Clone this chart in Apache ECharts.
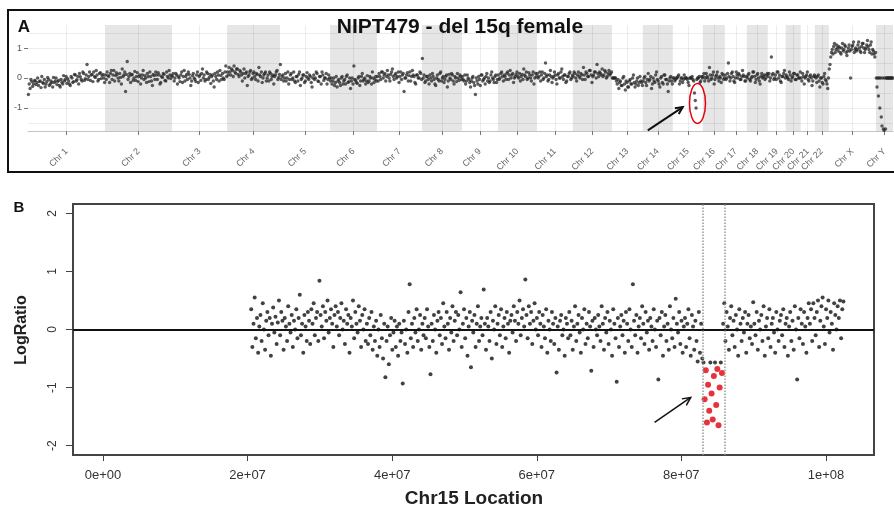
<!DOCTYPE html>
<html>
<head>
<meta charset="utf-8">
<script src="https://cdn.jsdelivr.net/npm/echarts@6/dist/echarts.min.js"></script>
<style>
html, body { margin: 0; padding: 0; background: #fff; }
#chart { width: 894px; height: 509px; }
</style>
</head>
<body>
<div id="chart"></div>
<script>
// ---- panel A: genome-wide log ratios, one array per chromosome ----
const chrNames = ['Chr 1','Chr 2','Chr 3','Chr 4','Chr 5','Chr 6','Chr 7','Chr 8','Chr 9','Chr 10','Chr 11','Chr 12',
  'Chr 13','Chr 14','Chr 15','Chr 16','Chr 17','Chr 18','Chr 19','Chr 20','Chr 21','Chr 22','Chr X','Chr Y'];
// plotted length of each chromosome (Mb, as drawn)
const chrLen = [262,228,187,180,170,160,153,136,122,133,122,133,105,102,102,75,75,71,61,51,48,48,160,58];

const chr1LR = [-0.55,-0.2,-0.35,-0.05,-0.12,-0.28,-0.2,-0.1,-0.08,-0.22,-0.15,0.0,-0.25,-0.12,-0.1,-0.32,0.05,-0.15,-0.18,-0.05,-0.3,-0.2,-0.12,0.02,-0.05,-0.25,-0.2,-0.1,-0.15,-0.3,0.02,-0.15,-0.1,0.0,-0.22,-0.12,-0.08,-0.25,-0.3,-0.05,-0.14,-0.2,0.08,-0.1,-0.05,0.05,-0.18,-0.02,-0.1,-0.2,-0.25,0.05,0.0,-0.15,-0.12,0.12,0.1,-0.1,-0.06,0.05,-0.2,0.15,0.04,-0.05,-0.1,0.2,0.15,-0.08,-0.02,0.1,0.45,-0.05,0.05,0.2,-0.08,0.1,0.12,-0.12,0.2,0.05,0.02,0.25,0.1,-0.1,-0.05,0.15,0.18,-0.02,0.08,0.12,0.0,-0.15];
const chr2LR = [0.1,-0.05,0.2,0.08,0.05,-0.15,0.15,0.25,-0.05,0.1,0.25,-0.1,0.08,0.18,0.12,0.0,-0.1,0.15,0.02,-0.2,0.3,0.05,0.1,0.2,-0.45,0.12,0.55,-0.05,0.05,0.15,-0.15,0.1,0.12,-0.08,0.0,0.22,-0.08,0.05,0.18,-0.12,0.05,0.1,-0.2,0.0,0.1,0.25,-0.05,0.08,0.0,-0.15,0.15,0.05,-0.12,0.2,0.05,-0.1,-0.25,0.12,0.08,-0.05,0.2,0.1,-0.05,0.18,0.1,-0.2,-0.15,0.05,0.02,0.15,0.12,-0.08,-0.1,0.2,0.05,0.0,0.25,0.1,-0.02,0.08];
const chr3LR = [0.05,0.15,-0.1,0.0,0.15,0.1,-0.2,0.05,0.0,-0.12,0.1,0.2,-0.15,0.05,0.25,-0.1,0.05,0.12,-0.05,0.2,0.12,0.0,-0.25,-0.1,0.08,0.15,0.0,-0.05,-0.12,0.1,0.2,-0.15,0.05,0.1,-0.08,0.15,0.3,0.0,0.1,-0.1,-0.05,0.2,0.15,-0.05,0.02,0.12,-0.18,0.05,0.1,-0.1,-0.3,0.15,0.05,-0.05,0.2,0.1,-0.1,0.25,0.08,-0.05,0.15,0.0,-0.05,0.2,0.4,0.05];
const chr4LR = [0.2,0.1,0.35,0.2,0.1,0.3,0.25,0.05,0.4,0.2,0.15,0.3,0.3,0.12,0.05,0.25,0.2,0.1,-0.1,0.15,0.3,0.0,0.15,0.2,-0.25,0.05,0.1,0.2,0.25,-0.05,0.0,0.15,0.2,0.05,-0.05,0.15,0.12,-0.1,0.35,0.1,0.05,0.2,-0.15,0.0,0.1,0.15,0.2,-0.1,0.0,0.1,-0.1,0.2,0.15,-0.05,0.05,0.1,-0.2,0.05,0.1,0.2,0.25,-0.05,0.02,0.12];
const chr5LR = [0.45,-0.05,0.05,0.1,-0.1,0.0,0.15,-0.1,0.0,0.2,-0.2,-0.05,0.1,0.15,-0.05,0.0,0.2,-0.1,-0.15,0.05,0.05,-0.1,0.12,0.2,-0.25,-0.05,0.0,0.1,0.1,-0.15,-0.1,0.05,0.18,0.0,-0.05,0.1,0.05,-0.15,-0.3,0.0,0.1,-0.05,0.0,0.2,0.15,-0.1,-0.12,0.05,0.05,-0.2,0.2,0.1,-0.08,0.0,0.0,0.15,-0.2,-0.05,0.1,0.0];
const chr6LR = [-0.1,0.0,-0.2,-0.1,0.0,-0.25,-0.15,0.05,-0.3,-0.1,-0.05,-0.15,-0.25,0.0,0.05,-0.2,-0.1,-0.05,-0.2,0.05,0.1,-0.15,-0.12,0.0,-0.35,-0.1,0.0,-0.2,0.4,-0.05,-0.08,-0.15,-0.18,0.0,0.05,-0.25,-0.1,0.05,0.15,-0.1,-0.05,0.0,-0.2,-0.1,0.08,-0.15,-0.1,0.05,0.0,-0.2,0.2,0.0,-0.15,-0.05,0.05,-0.1];
const chr7LR = [0.05,-0.1,0.15,0.05,-0.05,0.2,0.2,0.0,0.1,0.15,-0.1,0.05,0.25,0.1,0.0,-0.1,0.12,0.2,0.3,0.05,-0.05,0.1,0.15,0.0,0.05,0.2,-0.15,0.05,0.2,-0.05,0.1,0.15,-0.45,0.0,0.0,0.1,0.18,-0.1,0.08,0.2,-0.1,0.05,0.25,0.1,0.05,-0.15,-0.2,0.1,0.1,0.0,0.0,0.2,0.15,-0.05];
const chr8LR = [0.65,0.0,0.1,-0.15,-0.1,0.05,0.05,-0.05,-0.2,0.1,0.0,-0.1,0.15,0.05,-0.05,-0.2,-0.25,0.0,0.1,-0.05,-0.1,0.15,0.2,-0.1,0.0,0.05,-0.15,-0.05,0.05,0.1,-0.3,-0.1,0.12,0.0,-0.05,0.15,0.1,-0.1,-0.2,0.05,0.0,-0.12,0.15,0.0,-0.08,0.1,0.05,-0.05];
const chr9LR = [0.05,-0.05,-0.1,0.1,-0.2,-0.1,0.1,0.0,-0.05,-0.15,-0.3,-0.1,0.0,0.05,-0.15,-0.25,-0.55,0.0,-0.1,-0.2,0.05,-0.05,-0.25,0.1,0.1,-0.1,-0.05,0.0,-0.2,0.05,0.15,-0.1,0.0,-0.15,-0.1,0.1,0.2,0.0,-0.05,-0.15,0.05,0.1,-0.15,-0.05];
const chr10LR = [0.1,-0.05,0.0,0.15,0.2,0.05,-0.1,0.1,0.05,-0.05,0.15,0.2,-0.05,0.1,0.25,0.0,0.1,0.15,-0.15,0.0,0.05,0.12,0.2,0.05,0.0,0.15,-0.1,0.05,0.12,-0.05,0.3,0.1,0.05,0.2,-0.05,0.0,0.18,0.1,0.0,-0.1,0.1,0.2,-0.2,0.0,0.15,0.05];
const chr11LR = [0.15,0.0,0.05,0.2,-0.1,0.1,0.2,-0.05,0.0,0.15,0.5,0.05,0.1,-0.1,-0.05,0.1,0.25,0.05,-0.15,0.0,0.05,0.2,0.1,-0.05,-0.2,0.1,0.15,0.0,0.0,0.2,0.3,0.05,-0.05,0.1,0.1,-0.15,-0.1,0.05,0.05,0.15,0.2,-0.05,0.0,0.1];
const chr12LR = [0.05,0.2,0.15,0.0,-0.1,0.1,0.2,0.05,0.0,0.15,0.1,-0.05,0.35,0.1,-0.05,0.2,0.15,0.05,0.05,0.25,0.25,0.1,-0.15,0.05,0.1,0.2,0.2,0.0,0.45,0.15,0.05,0.2,0.15,0.1,0.3,0.05,0.1,0.25,0.2,0.0,0.05,0.15,0.25,0.1,0.15,0.2];
const chr13LR = [0.0,0.0,0.0,0.0,0.0,-0.1,-0.2,-0.05,-0.35,-0.15,-0.1,-0.25,-0.25,0.0,0.05,-0.2,-0.4,-0.1,-0.15,-0.3,-0.3,-0.1,-0.05,-0.2,-0.2,0.0,0.1,-0.15,-0.3,-0.2,-0.1,0.0,-0.25,-0.15,0.05,-0.1,-0.15,-0.25];
const chr14LR = [-0.1,0.0,0.05,-0.15,-0.25,-0.05,0.15,-0.1,-0.05,0.05,-0.35,-0.2,0.0,-0.1,-0.15,0.1,0.2,-0.05,-0.1,-0.2,-0.3,0.0,0.05,-0.15,-0.2,0.1,0.1,-0.05,-0.05,-0.2,-0.45,-0.1,0.0,0.05,-0.1,-0.2];
const chr15LRA = [0.0,0.0,-0.1,-0.05,0.0,0.0,0.05,0.1,-0.2,-0.1,0.0,0.0,-0.15,-0.05,0.1,0.0,0.0,0.0,-0.05,-0.15,-0.25,0.0,0.0,0.0,0.05,-0.05,-0.1,-0.5,-0.75,-1.0,-0.05,0.0,0.0,0.05,-0.15,-0.1,0.05,0.0];
const chr16LR = [0.05,0.15,-0.1,0.0,0.15,0.05,0.0,-0.1,0.35,0.1,-0.05,0.0,0.1,0.2,-0.2,-0.05,0.05,0.1,0.2,0.0,-0.1,0.05,0.0,-0.15,0.15,0.1,-0.05,0.0];
const chr17LR = [0.1,-0.05,0.0,0.15,0.5,0.05,-0.1,0.0,0.15,0.2,0.05,-0.1,-0.15,0.0,0.2,0.1,0.0,0.15,0.1,-0.05,-0.05,0.05,0.25,0.1,0.05,-0.1,-0.1,0.05];
const chr18LR = [0.0,0.1,0.15,-0.05,-0.1,0.0,0.05,0.2,0.2,0.05,-0.15,-0.05,0.1,0.15,0.0,-0.1,-0.2,0.05,0.15,0.0,0.05,0.1,-0.05,0.0,0.1,0.15];
const chr19LR = [0.05,0.15,-0.1,0.0,0.7,0.1,0.15,-0.05,0.0,0.1,-0.05,0.2,0.2,0.0,0.1,-0.1,-0.15,0.05,0.05,0.15,0.25,0.0];
const chr20LR = [0.1,0.05,0.0,-0.05,0.2,0.1,-0.1,0.0,0.05,0.15,0.15,-0.05,-0.05,0.1,0.1,0.0,0.0,0.2];
const chr21LR = [0.0,-0.1,0.15,0.05,-0.2,0.0,0.05,0.1,0.2,-0.05,-0.1,0.05,0.1,0.0,-0.25,-0.1,0.05,0.1];
const chr22LR = [0.05,0.0,-0.15,0.05,0.1,-0.1,-0.3,0.0,0.0,-0.15,-0.2,0.05,0.15,-0.05,-0.1,-0.2,-0.35,0.0];
const chrXLR = [0.3,0.45,0.7,0.85,0.95,0.8,1.05,1.15,0.85,0.95,1.1,1.0,0.9,1.05,1.0,0.85,0.8,1.0,1.15,0.9,0.95,1.1,1.05,0.85,0.75,0.9,1.0,1.1,0.9,0.0,0.95,1.05,1.1,1.2,0.85,0.95,1.0,0.9,0.95,1.1,1.2,1.0,0.9,0.85,1.05,1.15,1.15,1.0,0.85,0.95,1.0,1.1,1.25,1.05,0.95,0.85,1.1,1.2,0.8,0.95,0.9,0.8,0.7,0.85];
const chrYLR = [0,-0.3,0,-0.6,0,-1.0,0,-1.3,-1.6,0,-1.7,-1.75,0,-1.7,0,0,0,0,0,0,0,0,0,0];

const yTicksA = [-1, 0, 1];
const gridLinesA = [-1.5, -1, -0.5, 0, 0.5, 1, 1.5];

// ---- panel B: chromosome 15 bins ----
const chr15Start = 20.5e6;
const chr15Bin = 0.16e6;
const chr15LR = [
  0.35,-0.3,0.1,0.55,-0.15,0.2,-0.4,0.05,0.25,-0.2,0.45,0.0,-0.35,0.15,0.3,-0.1,0.2,-0.45,0.1,0.38,-0.05,0.22,-0.25,0.12,0.5,
  -0.1,0.3,0.15,-0.35,0.2,0.05,-0.2,0.4,0.1,-0.05,0.25,-0.3,0.15,0.0,0.35,-0.15,0.2,0.6,-0.1,0.1,-0.4,0.25,0.05,-0.2,0.3,
  0.15,-0.25,0.35,0.1,0.45,-0.1,0.2,0.3,-0.2,0.84,0.25,0.05,0.4,-0.15,0.3,0.15,0.5,-0.05,0.2,0.35,0.1,-0.3,0.25,0.4,0.05,
  0.3,-0.1,0.2,0.45,0.0,0.15,-0.25,0.35,0.1,0.25,-0.4,0.2,0.05,0.5,-0.15,0.3,0.1,-0.05,0.4,0.15,-0.3,0.25,0.0,0.35,-0.2,
  0.1,-0.25,0.2,-0.1,0.3,-0.35,0.05,-0.2,0.15,-0.45,0.0,-0.3,0.25,-0.15,-0.5,0.1,-0.82,-0.2,0.05,-0.6,-0.1,0.2,-0.35,-0.05,0.15,
  -0.3,0.05,-0.45,0.1,-0.2,-0.05,-0.93,0.15,-0.25,0.0,-0.4,0.3,0.78,-0.15,0.1,-0.3,0.2,-0.05,0.35,-0.2,0.0,0.25,-0.35,0.1,-0.1,
  0.2,-0.15,0.35,0.05,-0.3,-0.77,0.1,-0.2,0.25,0.0,-0.4,0.15,0.3,-0.1,0.2,-0.25,0.45,0.05,-0.15,0.3,0.1,-0.35,0.2,-0.05,0.4,
  -0.2,0.15,0.3,-0.1,0.25,0.0,0.64,-0.3,0.1,0.35,-0.15,0.2,-0.45,0.05,0.3,-0.65,0.15,-0.05,0.25,-0.3,0.1,0.4,-0.2,0.05,0.2,
  -0.1,0.69,0.1,-0.35,0.2,0.05,-0.2,0.3,-0.5,0.15,0.0,0.4,-0.25,0.1,0.25,-0.1,0.35,-0.3,0.05,0.2,-0.15,0.3,0.1,-0.4,0.15,
  0.25,-0.05,0.4,0.15,-0.2,0.3,0.1,0.5,-0.1,0.2,0.35,0.05,0.86,0.25,-0.15,0.4,0.1,0.3,-0.25,0.15,0.45,0.0,0.2,-0.1,0.3,
  0.1,-0.3,0.25,0.05,-0.15,0.35,-0.4,0.15,0.0,-0.2,0.3,0.1,-0.25,0.2,-0.74,0.05,-0.35,0.15,0.25,-0.1,0.0,-0.45,0.2,0.1,-0.15,
  0.3,-0.1,0.15,-0.35,0.05,0.4,-0.2,0.1,0.25,-0.05,-0.4,0.2,0.0,0.35,-0.25,0.1,-0.15,0.3,0.05,-0.71,0.15,-0.3,0.2,0.0,-0.1,
  0.25,0.05,-0.2,0.4,0.1,-0.35,0.2,-0.05,0.3,-0.25,0.15,0.0,-0.45,0.35,0.1,-0.15,-0.9,0.2,-0.3,0.05,0.25,-0.1,0.15,-0.4,0.3,
  0.1,-0.2,0.35,0.0,-0.3,0.78,0.15,-0.1,0.25,-0.4,0.05,0.2,-0.15,0.4,0.1,-0.25,0.3,-0.05,0.15,-0.35,0.2,0.05,-0.2,0.35,0.0,
  -0.3,0.15,-0.86,0.2,-0.1,0.3,-0.45,0.05,0.25,-0.2,0.1,-0.35,0.4,0.0,-0.15,0.2,-0.3,0.53,0.1,-0.05,0.3,-0.25,0.15,-0.4,0.05,
  0.2,-0.3,0.1,0.35,-0.15,-0.45,0.25,0.05,-0.35,0.15,-0.2,-0.55,0.3,-0.4,0.1,-0.5,
  -0.57,-1.2,-0.7,-1.6,-0.95,-1.4,-0.57,-1.1,-1.55,-0.8,-0.57,-1.3,-0.68,-1.65,-1.0,-0.57,-0.75,
  0.1,0.45,-0.2,0.3,0.05,-0.35,0.2,0.4,-0.1,0.15,-0.3,0.25,0.0,-0.45,0.35,0.1,-0.2,0.2,-0.05,0.3,-0.4,0.1,0.25,-0.15,0.05,
  -0.25,0.47,0.1,-0.1,0.3,-0.35,0.15,0.0,0.25,-0.2,0.4,-0.45,0.05,0.2,-0.15,0.35,-0.3,0.1,0.2,-0.05,-0.4,0.3,0.0,-0.2,0.15,
  0.25,-0.1,0.35,-0.3,0.1,0.2,-0.45,0.05,0.3,-0.2,0.15,-0.35,0.4,0.0,-0.86,0.2,-0.15,0.35,0.1,-0.25,0.3,0.05,-0.4,0.2,0.45,
  0.1,0.35,-0.2,0.45,0.2,-0.1,0.3,0.5,-0.3,0.15,0.4,0.55,0.05,-0.25,0.35,0.2,0.5,-0.05,0.3,0.1,-0.35,0.45,0.25,0.0,0.4,
  0.2,0.5,-0.15,0.35,0.48
];
const delStart = 83.0e6;
const delEnd = 86.0e6;
const xTicksB = [0, 2e7, 4e7, 6e7, 8e7, 1e8];
const yTicksB = [-2, -1, 0, 1, 2];

// ---- build ----
const chrLR = [chr1LR,chr2LR,chr3LR,chr4LR,chr5LR,chr6LR,chr7LR,chr8LR,chr9LR,chr10LR,chr11LR,chr12LR,
  chr13LR,chr14LR,chr15LRA,chr16LR,chr17LR,chr18LR,chr19LR,chr20LR,chr21LR,chr22LR,chrXLR,chrYLR];
const chrStart = [];
let acc = 0;
chrLen.forEach(l => { chrStart.push(acc); acc += l; });
const genomeLen = acc;
const chrMid = chrLen.map((l, i) => chrStart[i] + l / 2);

const ptsA = [];
chrLR.forEach((vals, c) => {
  vals.forEach((v, i) => ptsA.push([chrStart[c] + (i + 0.5) * chrLen[c] / vals.length, v]));
});
const bands = [];
chrLen.forEach((l, i) => { if (i % 2 === 1) bands.push([{ xAxis: chrStart[i] }, { xAxis: chrStart[i] + l }]); });

const ptsB = [], ptsDel = [];
chr15LR.forEach((v, i) => {
  const x = chr15Start + i * chr15Bin;
  if (x >= delStart && x <= delEnd && v < -0.6) ptsDel.push([x, v]);
  else ptsB.push([x, v]);
});

function sci(v) {
  if (v === 0) return '0e+00';
  const e = Math.floor(Math.log10(v) + 1e-9);
  const m = Math.round(v / Math.pow(10, e));
  return m + 'e+' + String(e).padStart(2, '0');
}

const chart = echarts.init(document.getElementById('chart'));
chart.setOption({
  animation: false,
  grid: [
    { left: 28, right: 1, top: 25, height: 106, outerBoundsMode: 'none' },
    { left: 73, right: 20, top: 204, bottom: 54, outerBoundsMode: 'none',
      show: true, borderColor: '#444', borderWidth: 2, backgroundColor: 'transparent' }
  ],
  xAxis: [
    {
      type: 'value', gridIndex: 0, min: 0, max: genomeLen,
      splitLine: { show: false },
      axisLine: { show: true, onZero: false, lineStyle: { color: '#c4c4c4', width: 1 } },
      axisTick: { show: true, customValues: chrMid, length: 4, lineStyle: { color: '#777' } },
      axisLabel: {
        customValues: chrMid, rotate: 45, fontSize: 9, color: '#666', margin: 19,
        fontFamily: 'Liberation Sans',
        formatter: v => chrNames[chrMid.findIndex(m => Math.abs(m - v) < 1e-6)] || ''
      }
    },
    {
      type: 'value', gridIndex: 1, min: -4.15e6, max: 1.0665e8,
      splitLine: { show: false },
      axisLine: { show: false, onZero: false },
      axisTick: { show: true, customValues: xTicksB, length: 6, lineStyle: { color: '#444', width: 1 } },
      axisLabel: { customValues: xTicksB, formatter: sci, fontSize: 13, color: '#333', margin: 14, fontFamily: 'Liberation Sans' }
    }
  ],
  yAxis: [
    {
      type: 'value', gridIndex: 0, min: -1.77, max: 1.77,
      splitLine: { show: false },
      axisLine: { show: false, onZero: false },
      axisTick: { show: true, customValues: yTicksA, length: 4, lineStyle: { color: '#777' } },
      axisLabel: { customValues: yTicksA, fontSize: 9, color: '#555', margin: 6, fontFamily: 'Liberation Sans' }
    },
    {
      type: 'value', gridIndex: 1, min: -2.16, max: 2.16,
      splitLine: { show: false },
      axisLine: { show: false, onZero: false },
      axisTick: { show: true, customValues: yTicksB, length: 7, lineStyle: { color: '#444', width: 1 } },
      axisLabel: { customValues: yTicksB, rotate: 90, fontSize: 12, color: '#333', margin: 14, fontFamily: 'Liberation Sans' }
    }
  ],
  series: [
    {
      type: 'scatter', xAxisIndex: 0, yAxisIndex: 0, data: [], z: 0, silent: true,
      markArea: { silent: true, itemStyle: { color: '#e6e6e6' }, data: bands },
      markLine: {
        silent: true, symbol: 'none', label: { show: false },
        lineStyle: { color: 'rgba(0,0,0,0.07)', type: 'solid', width: 1 },
        data: gridLinesA.map(v => ({ yAxis: v })).concat(chrMid.map(m => ({ xAxis: m })))
      }
    },
    {
      type: 'scatter', xAxisIndex: 0, yAxisIndex: 0, data: ptsA, z: 3,
      symbolSize: 3.4, itemStyle: { color: '#262626', opacity: 0.75 }
    },
    {
      type: 'scatter', xAxisIndex: 1, yAxisIndex: 1, data: ptsB, z: 3,
      symbolSize: 4, itemStyle: { color: '#111' },
      markLine: {
        silent: true, symbol: 'none', label: { show: false },
        data: [
          { yAxis: 0, lineStyle: { color: '#111', width: 2, type: 'solid' } },
          { xAxis: delStart, lineStyle: { color: '#999', width: 1.5, type: 'dotted' } },
          { xAxis: delEnd, lineStyle: { color: '#999', width: 1.5, type: 'dotted' } }
        ]
      }
    },
    {
      type: 'scatter', xAxisIndex: 1, yAxisIndex: 1, data: ptsDel, z: 4,
      symbolSize: 6, itemStyle: { color: '#e0000a' }
    }
  ]
});

// annotations placed in data coordinates
const ellipseA = { center: [chrStart[14] + 84, -0.85], rx: 8, ry: 20 };
const arrowA = { from: [chrStart[14] - 85, -1.75], to: [chrStart[14] + 34, -0.97] };
const arrowB = { from: [76.3e6, -1.6], to: [81.3e6, -1.17] };

function arrow(fromPx, toPx, head, width, color) {
  const a = Math.atan2(toPx[1] - fromPx[1], toPx[0] - fromPx[0]);
  const h1 = [toPx[0] - head * Math.cos(a - 0.45), toPx[1] - head * Math.sin(a - 0.45)];
  const h2 = [toPx[0] - head * Math.cos(a + 0.45), toPx[1] - head * Math.sin(a + 0.45)];
  return [
    { type: 'line', shape: { x1: fromPx[0], y1: fromPx[1], x2: toPx[0], y2: toPx[1] }, style: { stroke: color, lineWidth: width }, z: 10 },
    { type: 'polyline', shape: { points: [h1, toPx, h2] }, style: { stroke: color, lineWidth: width, fill: null }, z: 10 }
  ];
}
const pA = v => chart.convertToPixel({ gridIndex: 0 }, v);
const pB = v => chart.convertToPixel({ gridIndex: 1 }, v);
const ec = pA(ellipseA.center);

chart.setOption({
  graphic: [
    { type: 'rect', shape: { x: 8, y: 10, width: 890, height: 162 }, style: { fill: null, stroke: '#111', lineWidth: 2 }, z: 10 },
    { type: 'text', x: 460, y: 27, style: { text: 'NIPT479 - del 15q female', font: 'bold 21px "Liberation Sans"', fill: '#111', align: 'center', verticalAlign: 'middle' }, z: 10 },
    { type: 'text', x: 24, y: 27, style: { text: 'A', font: 'bold 17px "Liberation Sans"', fill: '#111', align: 'center', verticalAlign: 'middle' }, z: 10 },
    { type: 'text', x: 19, y: 208, style: { text: 'B', font: 'bold 15px "Liberation Sans"', fill: '#111', align: 'center', verticalAlign: 'middle' }, z: 10 },
    { type: 'text', x: 22, y: 330, rotation: Math.PI / 2, style: { text: 'LogRatio', font: 'bold 16px "Liberation Sans"', fill: '#222', align: 'center', verticalAlign: 'middle' }, z: 10 },
    { type: 'text', x: 474, y: 499, style: { text: 'Chr15 Location', font: 'bold 19px "Liberation Sans"', fill: '#222', align: 'center', verticalAlign: 'middle' }, z: 10 },
    { type: 'ellipse', shape: { cx: ec[0], cy: ec[1], rx: ellipseA.rx, ry: ellipseA.ry }, style: { fill: null, stroke: '#e8000b', lineWidth: 1.5 }, z: 10 }
  ].concat(arrow(pA(arrowA.from), pA(arrowA.to), 8, 2, '#111'))
   .concat(arrow(pB(arrowB.from), pB(arrowB.to), 9, 1.5, '#111'))
});
</script>
</body>
</html>
